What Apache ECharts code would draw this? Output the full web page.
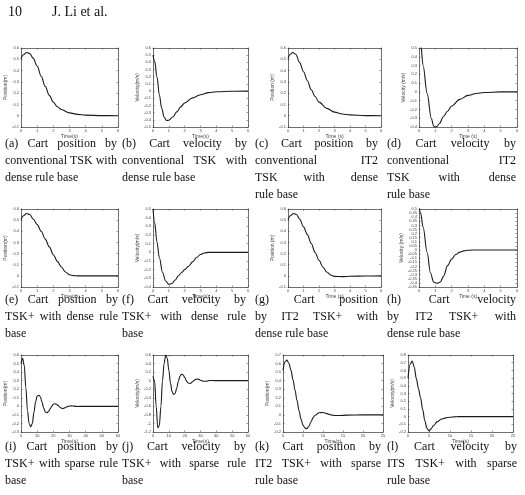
<!DOCTYPE html>
<html><head><meta charset="utf-8">
<script src="https://cdn.jsdelivr.net/npm/echarts@6/dist/echarts.min.js"></script>
<style>html,body{margin:0;padding:0;background:#fff}#c{width:525px;height:495px}</style>
</head><body><div id="c"></div>
<script>
// ---------- data ----------
const tA = [0,0.15,0.35,0.55,0.75,1,1.25,1.5,1.75,2,2.25,2.5,3,3.5,4,5,6];
const yA = [0.505,0.54,0.56,0.55,0.51,0.44,0.35,0.26,0.18,0.12,0.08,0.055,0.025,0.012,0.005,0.001,0];
const tB = [0,0.1,0.25,0.4,0.55,0.7,0.85,1,1.25,1.5,1.75,2,2.5,3,3.5,4,5,6];
const yB = [0.5,0.42,0.2,-0.05,-0.24,-0.36,-0.41,-0.405,-0.36,-0.29,-0.22,-0.165,-0.095,-0.05,-0.022,-0.01,-0.002,0];
const tC = [0,0.15,0.3,0.5,0.75,1,1.25,1.5,1.75,2,2.5,3,3.5,4,5,6];
const yC = [0.505,0.545,0.56,0.545,0.47,0.39,0.31,0.23,0.17,0.12,0.065,0.032,0.015,0.007,0.001,0];
const tD = [0,0.1,0.25,0.5,0.75,0.9,1.0,1.1,1.25,1.5,1.75,2,2.5,3,3.5,4,5,6];
const yD = [0.7,0.55,0.3,-0.02,-0.3,-0.39,-0.405,-0.395,-0.36,-0.28,-0.22,-0.16,-0.085,-0.04,-0.018,-0.007,0,0];
const tE = [0,0.15,0.35,0.55,0.75,1,1.25,1.5,1.75,2,2.25,2.5,2.75,3,3.25,3.5,4,5,6];
const yE = [0.505,0.54,0.56,0.55,0.51,0.46,0.4,0.33,0.26,0.19,0.13,0.08,0.035,0.01,0.002,0,0,0,0];
const tF = [0,0.1,0.25,0.4,0.6,0.8,1.0,1.2,1.4,1.6,1.8,2,2.25,2.5,2.75,3,3.25,3.5,4,5,6];
const yF = [0.5,0.35,0.12,-0.06,-0.23,-0.33,-0.37,-0.36,-0.32,-0.27,-0.235,-0.2,-0.16,-0.11,-0.06,-0.025,-0.007,0,0,0,0];
const tG = [0,0.15,0.35,0.55,0.75,1,1.25,1.5,1.75,2,2.25,2.5,2.75,3,3.5,4,5,6];
const yG = [0.505,0.54,0.56,0.55,0.51,0.44,0.37,0.29,0.21,0.14,0.08,0.035,0.008,-0.005,-0.007,-0.004,-0.001,0];
const tH = [0,0.1,0.25,0.5,0.7,0.9,1.1,1.3,1.5,1.75,2,2.25,2.5,2.75,3,3.25,3.5,4,5,6];
const yH = [0.55,0.45,0.28,-0.03,-0.28,-0.39,-0.405,-0.39,-0.32,-0.19,-0.11,-0.055,-0.025,-0.01,-0.003,0,0,0,0,0];
const tI = [0,1,2,3,4,5,6,7,8,9,10,11,12,13,14,15,16,17,18,19,20,21,22,23,24,25,26,27,28,29,30,31,33,35,38,40,50,60];
const yI = [0.5,0.56,0.48,0.22,-0.05,-0.2,-0.24,-0.2,-0.07,0.05,0.12,0.13,0.11,0.05,-0.02,-0.065,-0.075,-0.06,-0.03,0,0.025,0.03,0.025,0.01,-0.01,-0.022,-0.025,-0.018,-0.008,0,0.004,0.005,0.002,-0.002,0,0,0,0];
const tJ = [0,1,2,3,4,5,6,7,8,9,10,11,12,13,14,15,16,17,18,19,20,21,22,23,24,25,26,27,28,29,30,31,32,33,34,36,38,40,50,60];
const yJ = [0.1,0,-0.6,-1.1,-1.05,-0.6,0,0.4,0.6,0.52,0.25,-0.05,-0.25,-0.32,-0.3,-0.17,-0.02,0.1,0.15,0.14,0.08,0,-0.05,-0.065,-0.055,-0.025,0.01,0.03,0.035,0.03,0.01,-0.005,-0.015,-0.015,-0.01,0.005,0.003,0,0,0];
const tK = [0,0.5,1,1.5,2,2.5,3,3.5,4,4.5,5,5.5,6,6.5,7,7.5,8,9,10,11,12,13,14,16,20,25];
const yK = [0.52,0.62,0.64,0.6,0.52,0.41,0.29,0.17,0.05,-0.05,-0.12,-0.155,-0.16,-0.13,-0.08,-0.035,-0.005,0.025,0.028,0.015,0,-0.008,-0.008,-0.003,0,0];
const tL = [0,0.5,1,1.5,2,2.5,3,3.5,4,4.5,5,5.5,6,7,8,9,10,11,12,15,20,25];
const yL = [0.5,0.68,0.72,0.64,0.49,0.36,0.24,0.09,-0.05,-0.15,-0.185,-0.16,-0.12,-0.065,-0.032,-0.016,-0.008,-0.003,0,0,0,0];

// axis ranges [min, max, interval]
const xShort = [0,6,1], xLong = [0,60,10], xMid = [0,25,5];
const yPos = [-0.1,0.6,0.1], yVel1 = [-0.5,0.6,0.1], yVel2 = [-0.4,0.5,0.1], yVelH = [-0.45,0.5,0.05];
const yPosI = [-0.3,0.6,0.1], yVelJ = [-1.2,0.6,0.2], yPosK = [-0.2,0.7,0.1], yVelL = [-0.2,0.8,0.1];

// captions
const capA = ['(a) Cart position by','conventional TSK with','dense rule base'];
const capB = ['(b) Cart velocity by','conventional TSK with','dense rule base'];
const capC = ['(c) Cart position by','conventional IT2','TSK with dense','rule base'];
const capD = ['(d) Cart velocity by','conventional IT2','TSK with dense','rule base'];
const capE = ['(e) Cart position by','TSK+ with dense rule','base'];
const capF = ['(f) Cart velocity by','TSK+ with dense rule','base'];
const capG = ['(g) Cart position','by IT2 TSK+ with','dense rule base'];
const capH = ['(h) Cart velocity','by IT2 TSK+ with','dense rule base'];
const capI = ['(i) Cart position by','TSK+ with sparse rule','base'];
const capJ = ['(j) Cart velocity by','TSK+ with sparse rule','base'];
const capK = ['(k) Cart position by','IT2 TSK+ with sparse','rule base'];
const capL = ['(l) Cart velocity by','ITS TSK+ with sparse','rule base'];

// ---------- layout ----------
const panels = [
 {t:tA,y:yA,xr:xShort,yr:yPos,xn:'Time(s)',yn:'Position(m)',box:[21,48,118,127],yg:11,cap:capA,cx:[5,117],cy:144},
 {t:tB,y:yB,xr:xShort,yr:yVel1,xn:'Time(s)',yn:'Velocity(m/s)',box:[153,48,248,127],yg:10,cap:capB,cx:[122,247],cy:144},
 {t:tC,y:yC,xr:xShort,yr:yPos,xn:'Time (s)',yn:'Position (m)',box:[288,48,381,127],yg:9,cap:capC,cx:[255,378],cy:144},
 {t:tD,y:yD,xr:xShort,yr:yVel2,xn:'Time (s)',yn:'Velocity (m/s)',box:[419,48,517,127],yg:9,cap:capD,cx:[387,516],cy:144},
 {t:tE,y:yE,xr:xShort,yr:yPos,xn:'Time(s)',yn:'Position(m)',box:[21,209,118,287],yg:11,cap:capE,cx:[5,118],cy:300},
 {t:tF,y:yF,xr:xShort,yr:yVel2,xn:'Time(s)',yn:'Velocity(m/s)',box:[153,209,248,287],yg:10,cap:capF,cx:[122,246],cy:300},
 {t:tG,y:yG,xr:xShort,yr:yPos,xn:'Time (s)',yn:'Position (m)',box:[288,209,381,287],yg:9,cap:capG,cx:[255,378],cy:300},
 {t:tH,y:yH,xr:xShort,yr:yVelH,xn:'Time (s)',yn:'Velocity (m/s)',box:[419,209,517,287],yg:10,cap:capH,cx:[387,516],cy:300},
 {t:tI,y:yI,xr:xLong,yr:yPosI,xn:'Time(s)',yn:'Position(m)',box:[21,355,118,432],yg:11,cap:capI,cx:[5,118],cy:447},
 {t:tJ,y:yJ,xr:xLong,yr:yVelJ,xn:'Time(s)',yn:'Velocity(m/s)',box:[153,355,248,432],yg:11,cap:capJ,cx:[122,246],cy:447},
 {t:tK,y:yK,xr:xMid,yr:yPosK,xn:'Time(s)',yn:'Position(m)',box:[283,355,383,432],yg:11,cap:capK,cx:[255,381],cy:447},
 {t:tL,y:yL,xr:xMid,yr:yVelL,xn:'Time(s)',yn:'Velocity(m/s)',box:[408,355,513,432],yg:9,cap:capL,cx:[387,517],cy:447}
];

const AX = '#333', LAB = '#444';
const grid=[], xAxis=[], yAxis=[], series=[], graphic=[];
const tick = {show:true, inside:true, length:1.5, lineStyle:{color:AX,width:0.5}};
const line = {show:true, onZero:false, lineStyle:{color:AX,width:0.7}};
const labFont = {fontSize:4, color:LAB, fontFamily:'Liberation Sans', margin:2, interval:0, showMinLabel:true, showMaxLabel:true, hideOverlap:false};
const nameFont = {fontSize:5, color:LAB, fontFamily:'Liberation Sans'};

panels.forEach((p,k)=>{
  const [l,t,r,b] = p.box;
  grid.push({left:l, top:t, width:r-l, height:b-t, containLabel:false});
  const xb = {type:'value', gridIndex:k, min:p.xr[0], max:p.xr[1], interval:p.xr[2], splitLine:{show:false}, axisLine:line, axisTick:tick};
  xAxis.push(Object.assign({}, xb, {position:'bottom', axisLabel:labFont, name:p.xn, nameLocation:'middle', nameGap:6, nameTextStyle:nameFont}));
  xAxis.push(Object.assign({}, xb, {position:'top', axisLabel:{show:false}}));
  const yb = {type:'value', gridIndex:k, min:p.yr[0], max:p.yr[1], interval:p.yr[2], splitLine:{show:false}, axisLine:line, axisTick:tick};
  yAxis.push(Object.assign({}, yb, {position:'left', axisLabel:labFont, name:p.yn, nameLocation:'middle', nameRotate:90, nameGap:p.yg, nameTextStyle:nameFont}));
  yAxis.push(Object.assign({}, yb, {position:'right', axisLabel:{show:false}}));
  series.push({type:'line', xAxisIndex:2*k, yAxisIndex:2*k, data:p.t.map((v,i)=>[v,p.y[i]]), showSymbol:false, smooth:0.35, smoothMonotone:'x', clip:true, lineStyle:{color:'#1a1a1a',width:1.1}, silent:true, animation:false});
});

// captions with justified text
const FONT = '12px "Liberation Serif"';
const ctx = document.createElement('canvas').getContext('2d');
ctx.font = FONT;
function addText(txt,x,y){ graphic.push({type:'text', x:x, y:y, style:{text:txt, font:FONT, fill:'#111', verticalAlign:'middle'}}); }
panels.forEach(p=>{
  const [x0,x1] = p.cx;
  p.cap.forEach((ln,i)=>{
    const y = p.cy + i*17;
    if(i === p.cap.length-1){ addText(ln,x0,y); return; }
    const words = ln.split(' ');
    const ws = words.map(w=>ctx.measureText(w).width);
    const tot = ws.reduce((a,b)=>a+b,0);
    const gap = words.length>1 ? (x1-x0-tot)/(words.length-1) : 0;
    let x = x0;
    words.forEach((w,j)=>{ addText(w,x,y); x += ws[j]+gap; });
  });
});
graphic.push({type:'text', x:8, y:12, style:{text:'10', font:'14px "Liberation Serif"', fill:'#111', verticalAlign:'middle'}});
graphic.push({type:'text', x:52, y:12, style:{text:'J. Li et al.', font:'14px "Liberation Serif"', fill:'#111', verticalAlign:'middle'}});

const chart = echarts.init(document.getElementById('c'), null, {renderer:'canvas'});
chart.setOption({animation:false, backgroundColor:'#fff', grid, xAxis, yAxis, series, graphic});
</script></body></html>
